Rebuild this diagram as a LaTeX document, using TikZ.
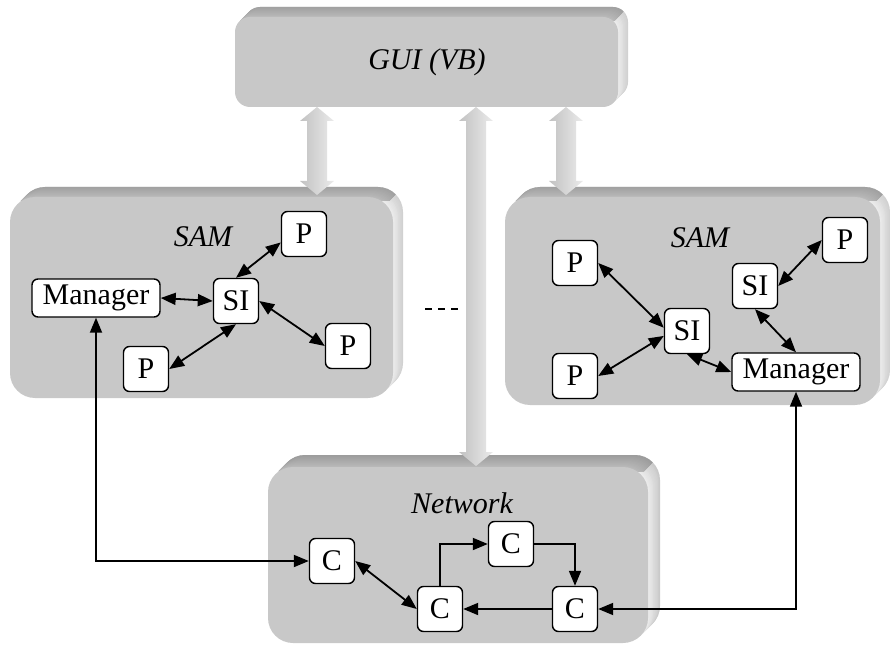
\documentclass[tikz,border=0pt]{standalone}
\usepackage{fontspec}
\setmainfont{Liberation Serif}
\usetikzlibrary{arrows.meta}
\definecolor{frontgray}{RGB}{200,200,200}
% #1 x1, #2 y1, #3 x2, #4 y2 (px, y down), #5 corner radius (pt), #6 depth (px)
\newcommand{\slab}[6]{%
  \foreach \i in {#6,...,1}{%
    \pgfmathtruncatemacro\k{7+1.2*\i}%
    \fill[black!\k, rounded corners=#5] ({#1+\i},{#2-\i}) rectangle ({#3+\i},{#4-\i});
  }%
  \begin{scope}
    \clip ({#1-6},{#2+4}) -- ({#3-4},{#2+4}) -- ({#3-4+25},{#2+4-25}) -- ({#1-6},{#2+4-25}) -- cycle;
    \foreach \i in {#6,...,1}{%
      \pgfmathtruncatemacro\k{27+\i}%
      \fill[black!\k, rounded corners=#5] ({#1+\i},{#2-\i}) rectangle ({#3+\i},{#4-\i});
    }%
  \end{scope}
  \fill[frontgray, rounded corners=#5] (#1,#2) rectangle (#3,#4);
}
% #1 centre x, #2 top y, #3 bottom y
\newcommand{\fatarrow}[3]{%
  \path[left color=black!24, right color=black!8]
    (#1,#2) -- ({#1+17},{#2+14}) -- ({#1+10},{#2+14}) -- ({#1+10},{#3-14})
    -- ({#1+17},{#3-14}) -- (#1,#3) -- ({#1-17},{#3-14}) -- ({#1-10},{#3-14})
    -- ({#1-10},{#2+14}) -- ({#1-17},{#2+14}) -- cycle;
}
\begin{document}
\begin{tikzpicture}[x=0.5pt,y=-0.5pt,
  font=\fontsize{15}{18}\selectfont,
  box/.style={draw=black, fill=white, rounded corners=3pt, line width=0.7pt,
    inner sep=0pt, minimum width=22.5pt, minimum height=22.5pt},
  wide/.style={box, minimum width=64pt, minimum height=19pt},
  lbl/.style={font=\fontsize{15}{18}\selectfont\itshape},
  link/.style={line width=0.9pt, {Triangle[length=7.5pt,width=6pt]}-{Triangle[length=7.5pt,width=6pt]}},
  oneway/.style={line width=0.9pt, -{Triangle[length=7.5pt,width=6pt]}},
]
\useasboundingbox (0,0) rectangle (890,647);

% big 3D boxes
\slab{235}{17}{618}{107}{7.5pt}{10}
\slab{10}{197}{393}{398}{12.5pt}{10}
\slab{505}{197}{880}{405}{12.5pt}{10}
\slab{268}{467}{648}{643}{12.5pt}{12}

% fat double arrows
\fatarrow{317}{107}{195}
\fatarrow{566}{107}{195}
\fatarrow{476}{107}{466}

% labels
\node[lbl] (gui) at (427,62) {GUI (VB)};
\node[lbl] (samL) at (203,237) {SAM};
\node[lbl] (samR) at (700,238) {SAM};
\node[lbl] (net) at (462,503) {Network};

% left SAM
\node[box] (pL1) at (304,234) {P};
\node[wide] (mL) at (96,298) {Manager};
\node[box] (siL) at (236,301) {SI};
\node[box] (pL2) at (348,346) {P};
\node[box] (pL3) at (146,369) {P};

% right SAM
\node[box] (pR1) at (575,263) {P};
\node[box] (pR2) at (575,376) {P};
\node[box] (siR1) at (687,331) {SI};
\node[box] (siR2) at (755,286) {SI};
\node[box] (pR3) at (845,240) {P};
\node[wide] (mR) at (796,372) {Manager};

% network
\node[box] (c1) at (332,561) {C};
\node[box] (c2) at (440,609) {C};
\node[box] (c3) at (511,544) {C};
\node[box] (c4) at (575,609) {C};

% connectors
\draw[link] (mL.east) -- (siL.west);
\draw[link] (siL.north) -- (pL1.200);
\draw[link] (siL.east) -- (pL2.west);
\draw[link] (siL.south) -- (pL3.east);
\draw[link] (mL.south) |- (c1.west);

\draw[link] (pR1.east) -- (siR1.172);
\draw[link] (pR2.east) -- (siR1.192);
\draw[link] (siR1.south) -- (mR.west);
\draw[link] (siR2.south) -- (mR.north);
\draw[link] (siR2.east) -- (pR3.west);
\draw[link] (mR.south) |- (c4.east);

\draw[link] (c1.east) -- (c2.west);
\draw[oneway] (c2.north) |- (c3.west);
\draw[oneway] (c3.east) -| (c4.north);
\draw[oneway] (c4.west) -- (c2.east);

\coordinate (d1) at (425,309);
\coordinate (d2) at (463,309);
\draw[line width=0.8pt, dash pattern=on 3.5pt off 3pt] (d1) -- (d2);
\end{tikzpicture}
\end{document}
